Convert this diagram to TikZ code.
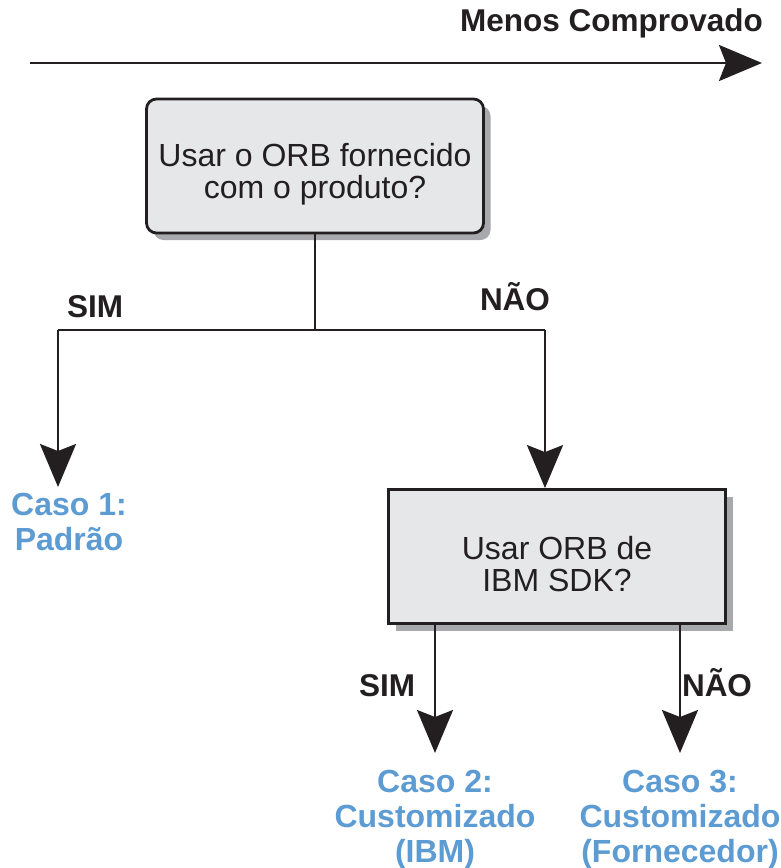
\documentclass[tikz,border=0pt]{standalone}
\usepackage{fontspec}
\setmainfont{Liberation Sans}
\usetikzlibrary{arrows.meta,positioning,shadows}
\definecolor{tinta}{RGB}{35,31,32}
\definecolor{casoazul}{RGB}{93,155,211}
\definecolor{caixacinza}{RGB}{230,231,232}
\definecolor{sombra}{RGB}{167,169,172}
\newcommand{\apoio}{\rule{0pt}{39pt}}

\begin{document}
\begin{tikzpicture}[x=1pt, y=-1pt,
    pergunta/.style={draw=tinta, line width=2.8pt, fill=caixacinza, text=tinta, align=center,
        minimum width=337pt, minimum height=134pt, font=\fontsize{32}{32}\selectfont,
        general shadow={fill=sombra, shadow xshift=7pt, shadow yshift=-7pt}},
    resposta/.style={text=tinta, font=\bfseries\fontsize{31.5}{31.5}\selectfont, inner sep=0pt, anchor=base},
    caso/.style={text=casoazul, font=\bfseries\fontsize{32}{35}\selectfont, align=center, inner sep=0pt, anchor=north},
    linha/.style={draw=tinta, line width=2.5pt},
    fluxo/.style={linha, -{Stealth[length=43pt, width=36pt, inset=7pt]}}
]
    \useasboundingbox (0,0) rectangle (781,868);

    % eixo do topo
    \node[resposta, anchor=base east] (titulo) at (763,31) {Menos Comprovado};
    \coordinate (eixoini) at (30,63);
    \coordinate (eixofim) at (762,63);
    \draw[fluxo] (eixoini) -- (eixofim);

    % primeira pergunta
    \node[pergunta, rounded corners=10pt] (orb) at (315,166) {\apoio Usar o ORB fornecido\\com o produto?};
    \coordinate (divisao) at (315,330);
    \coordinate (esq) at (58,330);
    \coordinate (dir) at (545,330);
    \draw[linha] (orb.south) -- (divisao);
    \draw[linha] (esq) -- (dir);
    \node[resposta] (sim1) at (95,317) {SIM};
    \node[resposta] (nao1) at (515,310) {NÃO};

    \node[caso] (caso1) at (69,493) {Caso 1:\\Padrão};
    \draw[fluxo, shorten >=6pt] (esq) -- (esq |- caso1.north);

    % segunda pergunta
    \node[pergunta] (ibm) at (557,556.5) {\apoio Usar ORB de\\IBM SDK?};
    \draw[fluxo] (dir) -- (dir |- ibm.north);

    \node[caso] (caso2) at (435,770) {Caso 2:\\Customizado\\(IBM)};
    \node[caso] (caso3) at (680,770) {Caso 3:\\Customizado\\(Fornecedor)};
    \draw[fluxo, shorten >=17pt] (caso2.north |- ibm.south) -- (caso2.north);
    \draw[fluxo, shorten >=17pt] (caso3.north |- ibm.south) -- (caso3.north);
    \node[resposta] (sim2) at (387,696) {SIM};
    \node[resposta] (nao2) at (717,696) {NÃO};
\end{tikzpicture}
\end{document}
